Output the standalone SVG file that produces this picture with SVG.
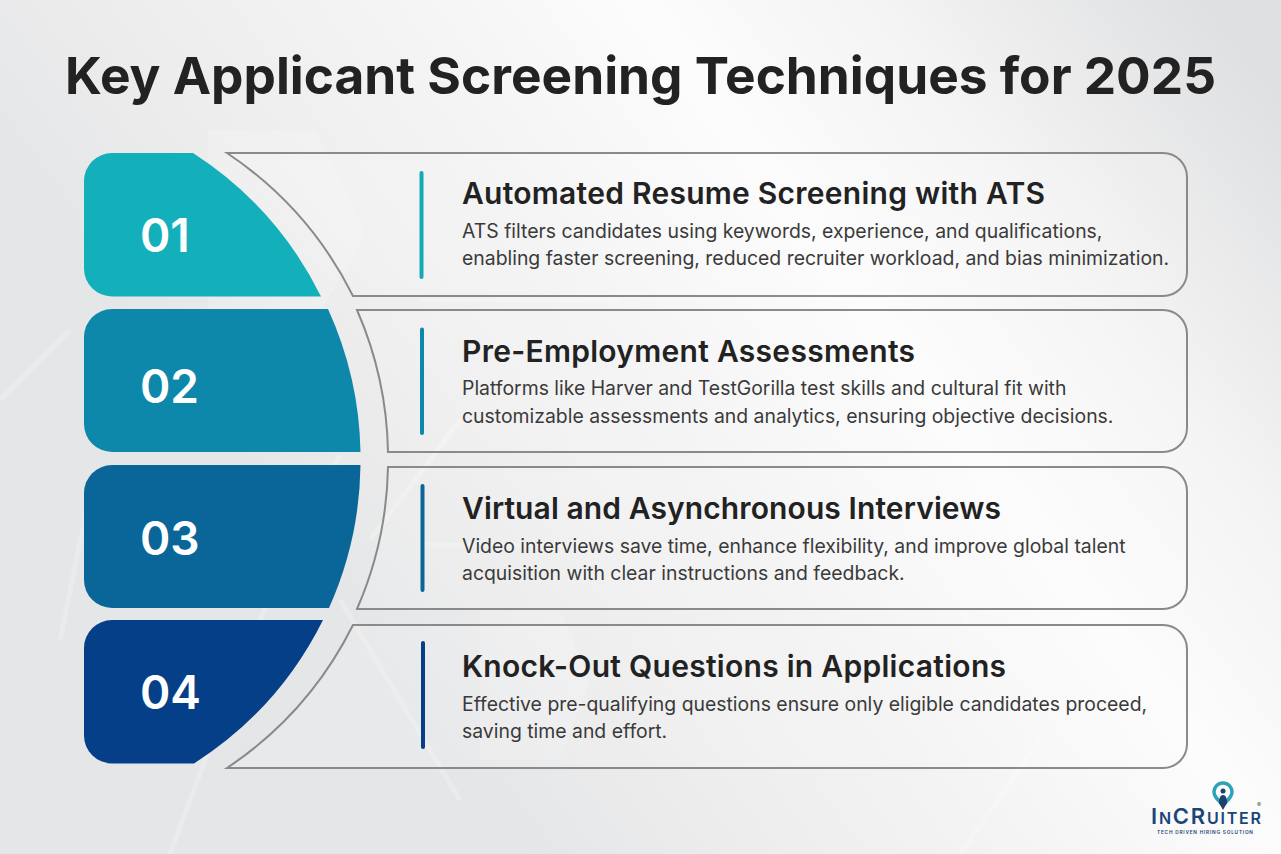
<svg xmlns="http://www.w3.org/2000/svg" width="1281" height="854" viewBox="0 0 1281 854">
<style>
text{font-family:Inter,"Liberation Sans",sans-serif}
.num{font-size:46px;font-weight:600;fill:#fff}
.h{font-size:30px;font-weight:600;fill:#222}
.b{font-size:19.4px;fill:#3a3a3a}
.panel{fill:#fff;fill-opacity:.14;stroke:#8a8a8a;stroke-width:2}
.bar{stroke-width:4;stroke-linecap:round}
.bgl{fill:none;stroke:#fff;stroke-opacity:.22;stroke-width:5}
.hex{fill:#fff;fill-opacity:.16}
</style>
<defs>
<linearGradient id="bg" gradientUnits="userSpaceOnUse" x1="480" y1="787" x2="1320" y2="157">
<stop offset="0" stop-color="#e5e6e7"/><stop offset=".2" stop-color="#eeeeef"/><stop offset=".35" stop-color="#f3f3f4"/><stop offset=".57" stop-color="#fcfcfc"/><stop offset=".75" stop-color="#f4f4f5"/><stop offset="1" stop-color="#dfe0e1"/>
</linearGradient>
</defs>
<rect width="1281" height="854" fill="url(#bg)"/>
<g id="background">
<path class="hex" d="M208 130H315L367 233L320 312H208Z"/>
<path class="hex" d="M480 610H560L590 680L560 760H480Z"/>
<path d="M0 400L70 330M340 455L250 640L170 854M340 600L460 800M930 560L1040 740L960 854M60 640L95 470" class="bgl"/>
<path d="M420 545H700M420 300H620M460 420L370 540" class="bgl"/>
</g>
<text x="65" y="94" font-size="51.500" font-weight="700" fill="#222" textLength="1151" lengthAdjust="spacingAndGlyphs">Key Applicant Screening Techniques for 2025</text>
<g id="connectors"></g>
<g id="node-1">
<path class="panel" d="M227 153H1163A24 24 0 0 1 1187 177V272A24 24 0 0 1 1163 296H353A371 371 0 0 0 227 153Z"/>
<path fill="#13b0bb" d="M112 153H193A361 361 0 0 1 321 296.500H112A28 28 0 0 1 84 268.500V181A28 28 0 0 1 112 153Z"/>
<text class="num" x="140" y="252">01</text>
<line class="bar" x1="421.500" y1="173" x2="421.500" y2="277" stroke="#13a9b5"/>
<text class="h" x="462" y="204" textLength="583">Automated Resume Screening with ATS</text>
<text class="b" x="462" y="238">ATS filters candidates using keywords, experience, and qualifications,</text>
<text class="b" x="462" y="265">enabling faster screening, reduced recruiter workload, and bias minimization.</text>
</g>
<g id="node-2">
<path class="panel" d="M357 310H1163A24 24 0 0 1 1187 334V428A24 24 0 0 1 1163 452H388A371 371 0 0 0 357 310Z"/>
<path fill="#0d87aa" d="M112 309H328A361 361 0 0 1 360.500 452H112A28 28 0 0 1 84 424V337A28 28 0 0 1 112 309Z"/>
<text class="num" x="140" y="403">02</text>
<line class="bar" x1="422" y1="329.500" x2="422" y2="433" stroke="#0d87aa"/>
<text class="h" x="462" y="362" textLength="453">Pre-Employment Assessments</text>
<text class="b" x="462" y="395">Platforms like Harver and TestGorilla test skills and cultural fit with</text>
<text class="b" x="462" y="423">customizable assessments and analytics, ensuring objective decisions.</text>
</g>
<g id="node-3">
<path class="panel" d="M388 467H1163A24 24 0 0 1 1187 491V585A24 24 0 0 1 1163 609H357A371 371 0 0 0 388 467Z"/>
<path fill="#0a6699" d="M112 465H360.500A361 361 0 0 1 329 608H112A28 28 0 0 1 84 580V493A28 28 0 0 1 112 465Z"/>
<text class="num" x="140" y="555">03</text>
<line class="bar" x1="422.500" y1="486" x2="422.500" y2="590" stroke="#0a6699"/>
<text class="h" x="462" y="519" textLength="539">Virtual and Asynchronous Interviews</text>
<text class="b" x="462" y="553">Video interviews save time, enhance flexibility, and improve global talent</text>
<text class="b" x="462" y="580">acquisition with clear instructions and feedback.</text>
</g>
<g id="node-4">
<path class="panel" d="M353 625H1163A24 24 0 0 1 1187 649V744A24 24 0 0 1 1163 768H227A371 371 0 0 0 353 625Z"/>
<path fill="#053f88" d="M112 620H323A361 361 0 0 1 194 763.500H112A28 28 0 0 1 84 735.500V648A28 28 0 0 1 112 620Z"/>
<text class="num" x="140" y="709">04</text>
<line class="bar" x1="423" y1="643" x2="423" y2="747" stroke="#053f88"/>
<text class="h" x="462" y="677" textLength="544">Knock-Out Questions in Applications</text>
<text class="b" x="462" y="711">Effective pre-qualifying questions ensure only eligible candidates proceed,</text>
<text class="b" x="462" y="738">saving time and effort.</text>
</g>
<g id="logo">
<path d="M1223 783a9 9 0 0 1 9 9c0 5-4 8-9 13c-5-5-9-8-9-13a9 9 0 0 1 9-9Z" fill="none" stroke="#2ba5b5" stroke-width="3.500"/>
<circle cx="1223" cy="791" r="2.500" fill="#1f3f6d"/>
<path d="M1219 803q0-8 4-8t4 8l-4 7Z" fill="#1f3f6d"/>
<text x="1151" y="824" font-weight="600" fill="#1b4578" font-family="Liberation Sans" font-size="16" textLength="110"><tspan font-size="22">I</tspan>N<tspan font-size="22">CR</tspan>UITER</text>
<text x="1257" y="807" font-size="6" fill="#555">®</text>
<text x="1157" y="834" font-size="4.800" font-weight="600" fill="#1b4578" textLength="96">TECH DRIVEN HIRING SOLUTION</text>
</g>
</svg>
